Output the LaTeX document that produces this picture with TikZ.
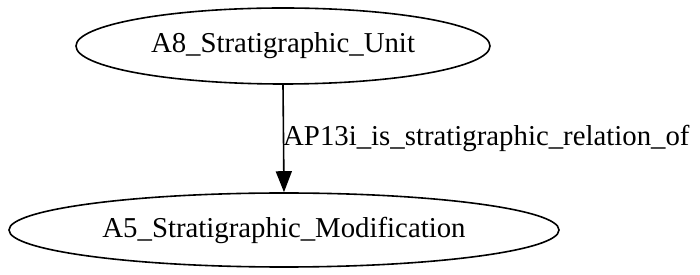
\documentclass[tikz,border=0pt]{standalone}
\usepackage{fontspec}
\setmainfont{Liberation Serif}
\usetikzlibrary{shapes.geometric,arrows.meta}
\begin{document}
\begin{tikzpicture}[x=1pt,y=1pt,
  classnode/.style={draw,ellipse,line width=1.6pt,inner sep=0pt,
    font=\fontsize{28.8}{30}\selectfont},
  relation/.style={line width=1.6pt,-{Triangle[length=21pt,width=16pt]}},
  edgelabel/.style={font=\fontsize{28.8}{30}\selectfont,inner sep=0pt}]
\useasboundingbox (0,0) rectangle (700,275);
\node[classnode,minimum width=414pt,minimum height=76pt] (unit) at (283,229) {A8\_Stratigraphic\_Unit};
\node[classnode,minimum width=550pt,minimum height=74pt] (mod) at (284,45) {A5\_Stratigraphic\_Modification};
\draw[relation] (unit.south) -- (mod.north);
\node[edgelabel,anchor=base west] (lbl) at (283,129) {AP13i\_is\_stratigraphic\_relation\_of};
\end{tikzpicture}
\end{document}
